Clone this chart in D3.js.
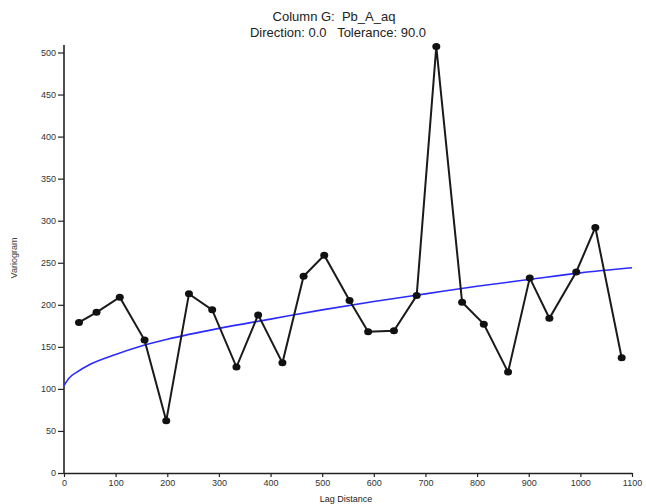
<!DOCTYPE html>
<html>
<head>
  <meta charset="utf-8">
  <title>variogram</title>
  <style>
    body { margin: 0; background: #fff; }
    text { font-family: "Liberation Sans", Arial, sans-serif; white-space: pre; }
  </style>
</head>
<body>
<script src="https://cdnjs.cloudflare.com/ajax/libs/d3/7.8.5/d3.min.js"></script>
<script>
// experimental variogram points (lag, value)
const lags = [29, 63, 108, 156, 198, 242, 287, 334, 376, 423, 464, 504, 553, 589, 639, 683, 721, 771, 813, 860, 902, 940, 992, 1029, 1080];
const gamma = [179, 191, 209, 158, 62, 213, 194, 126, 188, 131, 234, 259, 205, 168, 169, 211, 507, 203, 177, 120, 232, 184, 239, 292, 137];

// fitted model curve
const modelLags = [0, 10, 25, 50, 100, 150, 200, 300, 400, 500, 600, 700, 800, 900, 1000, 1100];
const modelVals = [104, 113, 120, 129, 141, 151, 159, 172, 183, 194, 204, 213, 222, 230, 238, 244];

const xTicks = [0, 100, 200, 300, 400, 500, 600, 700, 800, 900, 1000, 1100];
const yTicks = [0, 50, 100, 150, 200, 250, 300, 350, 400, 450, 500];

const width = 646, height = 504;

const svg = d3.select("body").append("svg")
  .attr("width", width)
  .attr("height", height);

const x = d3.scaleLinear().domain([0, 1100]).range([64, 632]);
const y = d3.scaleLinear().domain([0, 500]).range([473, 52.5]);

// title
svg.append("text").attr("x", 334).attr("y", 21).attr("text-anchor", "middle")
  .style("font-size", "13px").attr("fill", "#222").text("Column G:  Pb_A_aq");
svg.append("text").attr("x", 338).attr("y", 37).attr("text-anchor", "middle")
  .style("font-size", "13px").attr("fill", "#222")
  .text("Direction: 0.0   Tolerance: 90.0");

// axes
const xAxis = svg.append("g").attr("transform", "translate(0,473)")
  .call(d3.axisBottom(x).tickValues(xTicks).tickFormat(d3.format("d"))
    .tickSize(4).tickPadding(3).tickSizeOuter(0));
const yAxis = svg.append("g").attr("transform", "translate(64,0)")
  .call(d3.axisLeft(y).tickValues(yTicks).tickFormat(d3.format("d"))
    .tickSize(6).tickPadding(2).tickSizeOuter(0));

[xAxis, yAxis].forEach(g => {
  g.select(".domain").attr("stroke", "#222").attr("stroke-width", 1.6);
  g.selectAll(".tick line").attr("stroke", "#222").attr("stroke-width", 1.2);
  g.selectAll(".tick text").attr("fill", "#333").style("font-size", "9px")
    .style("font-family", "'Liberation Sans', Arial, sans-serif");
});
// extend y axis a bit above 500
yAxis.select(".domain").attr("d", `M0,${y(0)}V45`);

// axis labels
svg.append("text").attr("x", 346).attr("y", 502).attr("text-anchor", "middle")
  .style("font-size", "9px").attr("fill", "#222").text("Lag Distance");
svg.append("text").attr("transform", "translate(17,258) rotate(-90)").attr("text-anchor", "middle")
  .style("font-size", "9px").attr("fill", "#444").text("Variogram");

// model curve
const model = modelLags.map((d, i) => [d, modelVals[i]]);
svg.append("path")
  .datum(model)
  .attr("fill", "none")
  .attr("stroke", "#2b2bff")
  .attr("stroke-width", 1.6)
  .attr("d", d3.line().x(d => x(d[0])).y(d => y(d[1])).curve(d3.curveMonotoneX));

// experimental variogram
const pts = lags.map((d, i) => [d, gamma[i]]);
svg.append("path")
  .datum(pts)
  .attr("fill", "none")
  .attr("stroke", "#1a1a1a")
  .attr("stroke-width", 2)
  .attr("d", d3.line().x(d => x(d[0])).y(d => y(d[1])));

svg.selectAll("ellipse.pt")
  .data(pts)
  .enter()
  .append("ellipse")
  .attr("class", "pt")
  .attr("cx", d => x(d[0]))
  .attr("cy", d => y(d[1]))
  .attr("rx", 4)
  .attr("ry", 3.5)
  .attr("fill", "#111");
</script>
</body>
</html>
